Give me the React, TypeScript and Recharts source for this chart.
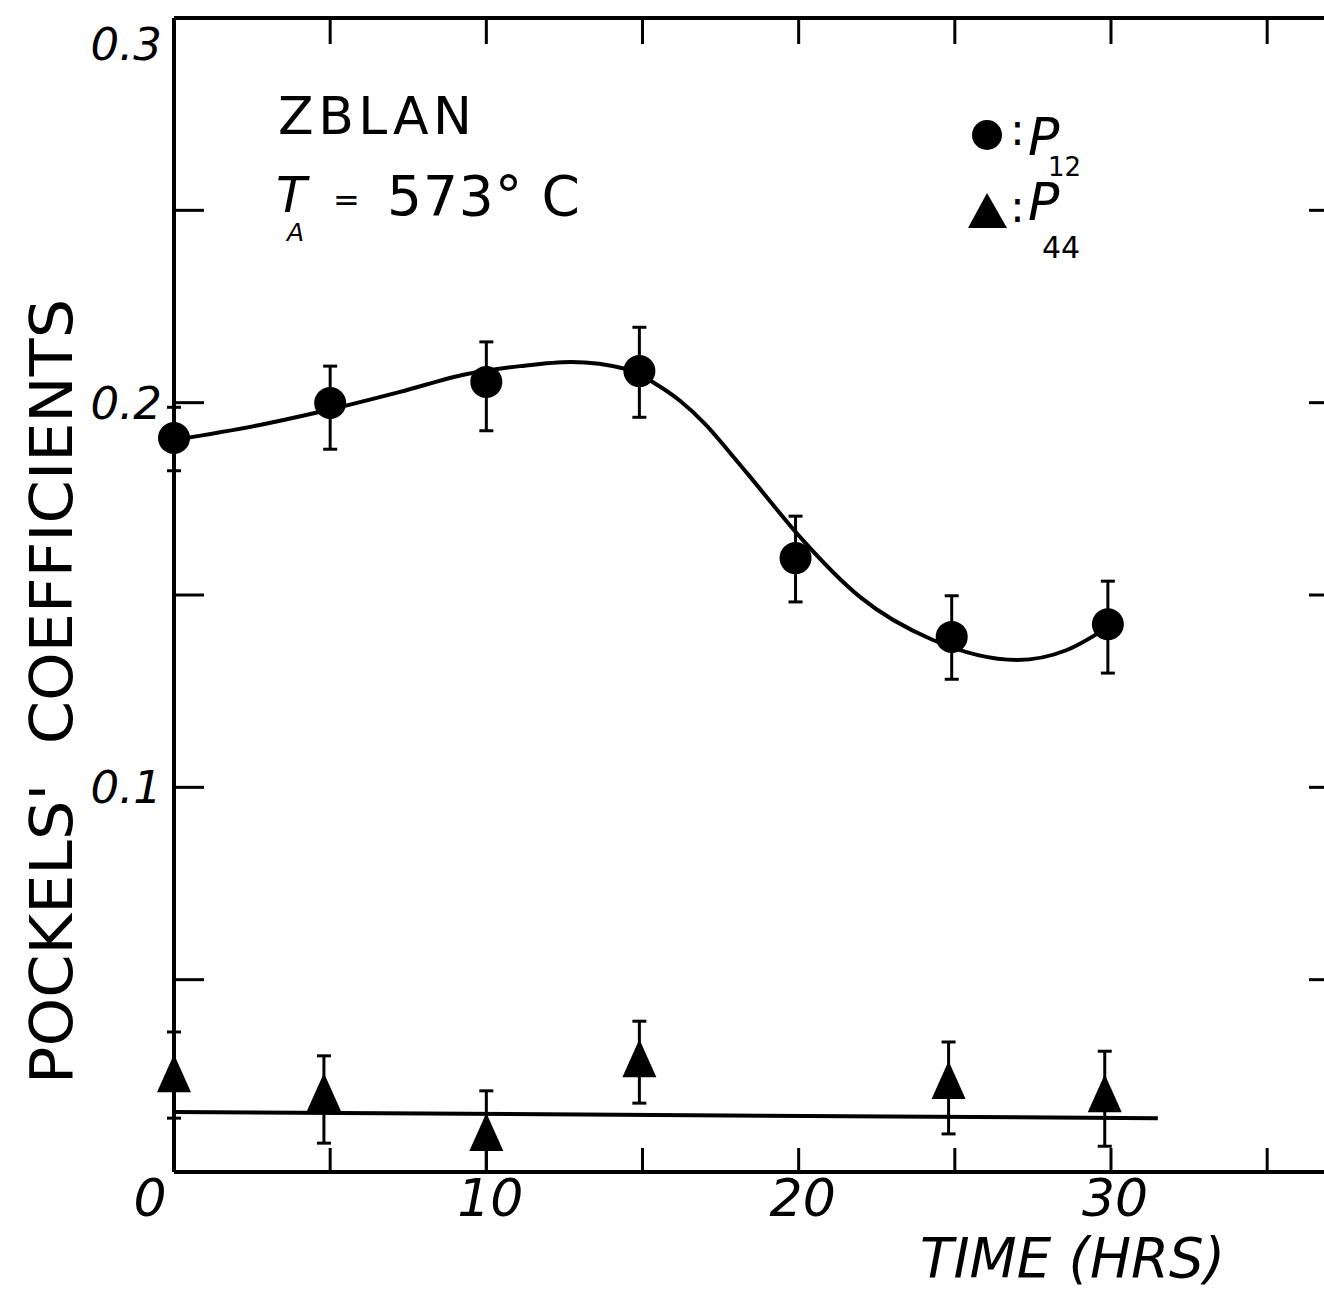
import React from 'react'
import { ComposedChart, Scatter, Line, XAxis, YAxis, ErrorBar, Legend } from 'recharts'

// P12 points: hours, coefficient, [lower, upper] error
const p12Hours = [0, 5.0, 10.0, 14.9, 19.9, 24.9, 29.9]
const p12Values = [0.1908, 0.1999, 0.2054, 0.2082, 0.1596, 0.1391, 0.1424]
const p12Errors = [
  [0.0085, 0.008],
  [0.012, 0.0096],
  [0.0127, 0.0104],
  [0.012, 0.0114],
  [0.0114, 0.0109],
  [0.011, 0.0107],
  [0.0127, 0.0112],
]

// P44 points
const p44Hours = [0, 4.8, 10.0, 14.9, 24.8, 29.8]
const p44Values = [0.0244, 0.0195, 0.0091, 0.0283, 0.0226, 0.0192]
const p44Errors = [
  [0.0104, 0.012],
  [0.012, 0.0107],
  [0.009, 0.012],
  [0.0104, 0.0109],
  [0.0127, 0.0112],
  [0.0125, 0.0122],
]

// hand-drawn guide curve through the P12 points
const p12CurveHours = [0, 2.75, 4.51, 7.24, 9.35, 11.08, 12.71, 14.51, 15.4, 16.2, 17.0, 17.8, 18.67, 20.04, 21.96, 24.3, 26.99, 28.59, 29.91]
const p12CurveValues = [0.1903, 0.1942, 0.1973, 0.2028, 0.2074, 0.2095, 0.2106, 0.2087, 0.205, 0.2005, 0.1945, 0.187, 0.1785, 0.1651, 0.1495, 0.1383, 0.1331, 0.1357, 0.1417]

// flat line through the P44 points
const p44LineHours = [0, 31.5]
const p44LineValues = [0.0156, 0.014]

const xTicks = [0, 5, 10, 15, 20, 25, 30, 35]
const xLabels = [0, 10, 20, 30]
const yTicks = [0, 0.05, 0.1, 0.15, 0.2, 0.25, 0.3]
const yLabels = [0.1, 0.2, 0.3]

const X_MAX = 37.3

const p12Data = p12Hours.map((t, i) => ({ t, v: p12Values[i], err: p12Errors[i] }))
const p44Data = p44Hours.map((t, i) => ({ t, v: p44Values[i], err: p44Errors[i] }))
const p12Curve = p12CurveHours.map((t, i) => ({ t, v: p12CurveValues[i] }))
const p44Line = p44LineHours.map((t, i) => ({ t, v: p44LineValues[i] }))

const FONT = '"DejaVu Sans", sans-serif'

const BottomTick = (props: any) => {
  const { x, y, payload } = props
  const v = payload.value
  return (
    <g>
      {v > 0 && <line x1={x} y1={y} x2={x} y2={y - 24} stroke="#000" strokeWidth={3} />}
      {xLabels.includes(v) && (
        <text x={v === 0 ? x - 24 : x + 4} y={y + 44} textAnchor="middle" fontSize={52} fontStyle="italic" fontFamily={FONT} fill="#000">
          {v}
        </text>
      )}
    </g>
  )
}

const TopTick = (props: any) => {
  const { x, y, payload } = props
  if (payload.value <= 0) return <g />
  return <line x1={x} y1={y} x2={x} y2={y + 26} stroke="#000" strokeWidth={3} />
}

const LeftTick = (props: any) => {
  const { x, y, payload } = props
  const v = payload.value
  const isLabel = yLabels.some((l) => Math.abs(l - v) < 1e-9)
  return (
    <g>
      {v > 0 && v < 0.3 && <line x1={x} y1={y} x2={x + 30} y2={y} stroke="#000" strokeWidth={3} />}
      {isLabel && (
        <text x={x - 12} y={v >= 0.3 ? y + 42 : y + 16} textAnchor="end" fontSize={45} fontStyle="italic" fontFamily={FONT} fill="#000">
          {v.toFixed(1)}
        </text>
      )}
    </g>
  )
}

const RightTick = (props: any) => {
  const { x, y, payload } = props
  const v = payload.value
  if (v <= 0 || v >= 0.3) return <g />
  return <line x1={x} y1={y} x2={x - 30} y2={y} stroke="#000" strokeWidth={3} />
}

const CircleMark = (p: any) => <circle cx={p.cx} cy={p.cy} r={16} fill="#000" />

const TriangleMark = (p: any) => (
  <polygon
    points={`${p.cx},${p.cy - 24} ${p.cx - 17},${p.cy + 14} ${p.cx + 17},${p.cy + 14}`}
    fill="#000"
  />
)

const LegendBox = () => (
  <svg width={180} height={170}>
    <circle cx={27} cy={35} r={15} fill="#000" />
    <text x={50} y={45} fontSize={44} fontFamily={FONT} fill="#000">:</text>
    <text x={68} y={55} fontSize={52} fontStyle="italic" fontFamily={FONT} fill="#000">P</text>
    <text x={88} y={76} fontSize={26} fontFamily={FONT} fill="#000">12</text>
    <polygon points="27,93 8,128 47,128" fill="#000" />
    <text x={50} y={122} fontSize={44} fontFamily={FONT} fill="#000">:</text>
    <text x={68} y={120} fontSize={52} fontStyle="italic" fontFamily={FONT} fill="#000">P</text>
    <text x={82} y={158} fontSize={30} fontFamily={FONT} fill="#000">44</text>
  </svg>
)

const YTitle = (props: any) => {
  const vb = props.viewBox
  const cy = vb.y + vb.height / 2 + 97
  const top = cy + 392
  return (
    <text
      x={72}
      y={top}
      transform={`rotate(-90 72 ${top})`}
      fontSize={58}
      fontFamily={FONT}
      fill="#000"
      textLength={785}
      lengthAdjust="spacingAndGlyphs"
      style={{ whiteSpace: 'pre' }}
    >
      {"POCKELS'  COEFFICIENTS"}
    </text>
  )
}

const XTitle = () => (
  <text x={920} y={1277} fontSize={56} fontStyle="italic" fontFamily={FONT} fill="#000" textLength={305} lengthAdjust="spacingAndGlyphs">
    TIME (HRS)
  </text>
)

export default function App() {
  return (
    <div style={{ position: 'absolute', left: 0, top: 0, width: 1324, height: 1290, overflow: 'hidden', background: '#fff' }}>
      <ComposedChart width={1360} height={1290} margin={{ top: 17, right: 20, left: 0, bottom: 0 }}>
        <XAxis
          dataKey="t"
          type="number"
          domain={[0, X_MAX]}
          ticks={xTicks}
          interval={0}
          height={118}
          tickSize={0}
          tickMargin={0}
          tickLine={false}
          tick={<BottomTick />}
          axisLine={{ stroke: '#000', strokeWidth: 4 }}
          label={<XTitle />}
        />
        <XAxis
          xAxisId="top"
          orientation="top"
          dataKey="t"
          type="number"
          domain={[0, X_MAX]}
          ticks={xTicks}
          interval={0}
          height={1}
          tickSize={0}
          tickMargin={0}
          tickLine={false}
          tick={<TopTick />}
          axisLine={{ stroke: '#000', strokeWidth: 4 }}
        />
        <YAxis
          dataKey="v"
          type="number"
          domain={[0, 0.3]}
          ticks={yTicks}
          interval={0}
          width={174}
          tickSize={0}
          tickMargin={0}
          tickLine={false}
          tick={<LeftTick />}
          axisLine={{ stroke: '#000', strokeWidth: 4 }}
          label={<YTitle />}
        />
        <YAxis
          yAxisId="right"
          orientation="right"
          dataKey="v"
          type="number"
          domain={[0, 0.3]}
          ticks={yTicks}
          interval={0}
          width={1}
          tickSize={0}
          tickMargin={0}
          tickLine={false}
          tick={<RightTick />}
          axisLine={{ stroke: '#000', strokeWidth: 4 }}
        />
        {/* unstroked copy so the top and right frame axes get drawn */}
        <Line xAxisId="top" yAxisId="right" data={p44Line} dataKey="v" stroke="none" dot={false} activeDot={false} isAnimationActive={false} legendType="none" />
        <Line data={p12Curve} dataKey="v" type="monotone" stroke="#000" strokeWidth={4} dot={false} isAnimationActive={false} legendType="none" />
        <Line data={p44Line} dataKey="v" type="linear" stroke="#000" strokeWidth={4} dot={false} isAnimationActive={false} legendType="none" />
        <Scatter name="P12" data={p12Data} dataKey="v" shape={CircleMark} isAnimationActive={false}>
          <ErrorBar dataKey="err" direction="y" width={7} strokeWidth={3} stroke="#000" />
        </Scatter>
        <Scatter name="P44" data={p44Data} dataKey="v" shape={TriangleMark} isAnimationActive={false}>
          <ErrorBar dataKey="err" direction="y" width={7} strokeWidth={3} stroke="#000" />
        </Scatter>
        <Legend
          layout="vertical"
          align="center"
          verticalAlign="middle"
          content={() => <LegendBox />}
          wrapperStyle={{ position: 'absolute', left: 960, top: 100, width: 180, height: 170 }}
        />
      </ComposedChart>
      <svg width={1324} height={1290} style={{ position: 'absolute', left: 0, top: 0, pointerEvents: 'none' }}>
        <text x={278} y={134} fontSize={52} fontFamily={FONT} fill="#000" textLength={194}>ZBLAN</text>
        <text x={276} y={212} fontSize={50} fontStyle="italic" fontFamily={FONT} fill="#000">T</text>
        <text x={287} y={241} fontSize={25} fontStyle="italic" fontFamily={FONT} fill="#000">A</text>
        <text x={333} y={211} fontSize={32} fontFamily={FONT} fill="#000">=</text>
        <text x={387} y={215} fontSize={55} fontFamily={FONT} fill="#000" textLength={193}>573° C</text>
      </svg>
    </div>
  )
}
